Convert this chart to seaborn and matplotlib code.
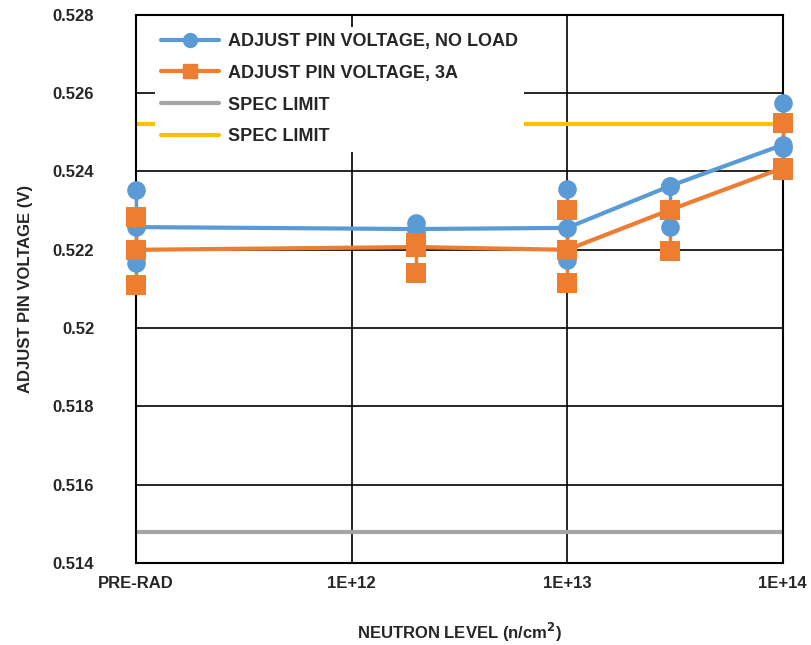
import numpy as np
import pandas as pd
import matplotlib
matplotlib.use("Agg")
import matplotlib.pyplot as plt
from matplotlib.lines import Line2D
import seaborn as sns

# Neutron fluence levels (PRE-RAD drawn at 1E+11 on the log axis)
levels = [1e11, 2e12, 1e13, 3e13, 1e14]
tick_pos = [1e11, 1e12, 1e13, 1e14]
tick_labels = ["PRE-RAD", "1E+12", "1E+13", "1E+14"]

# Individual unit readings (V), three units per level
no_load_pts = [
    [0.52353, 0.52258, 0.52166],
    [0.52269, 0.52253, 0.52240],
    [0.52356, 0.52256, 0.52174],
    [0.52363, 0.52363, 0.52258],
    [0.52575, 0.52468, 0.52460],
]
load_3a_pts = [
    [0.52284, 0.52200, 0.52110],
    [0.52218, 0.52207, 0.52141],
    [0.52302, 0.52200, 0.52115],
    [0.52302, 0.52302, 0.52197],
    [0.52524, 0.52409, 0.52405],
]
# Trend line values
no_load_line = [0.52258, 0.52253, 0.52256, 0.52363, 0.52468]
load_3a_line = [0.52200, 0.52207, 0.52200, 0.52302, 0.52409]

spec_low = 0.5148
spec_high = 0.5252

BLUE = "#5B9BD5"
ORANGE = "#ED7D31"
GRAY = "#A5A5A5"
YELLOW = "#FFC000"

sns.set_style("white")
plt.rcParams["font.family"] = ["Liberation Sans", "DejaVu Sans"]
plt.rcParams["font.weight"] = "bold"


def to_frame(pts):
    rows = []
    for lvl, vals in zip(levels, pts):
        for v in vals:
            rows.append({"level": lvl, "volt": v})
    return pd.DataFrame(rows)


df_nl = to_frame(no_load_pts)
df_3a = to_frame(load_3a_pts)
df_nl_line = pd.DataFrame({"level": levels, "volt": no_load_line})
df_3a_line = pd.DataFrame({"level": levels, "volt": load_3a_line})

fig = plt.figure(figsize=(8.12, 6.45), dpi=100)
ax = fig.add_axes([0.1675, 0.127, 0.7965, 0.85])

# spec limits across the whole range
ax.plot([levels[0], levels[-1]], [spec_low, spec_low], color=GRAY, lw=3, zorder=2)
ax.plot([levels[0], levels[-1]], [spec_high, spec_high], color=YELLOW, lw=3, zorder=2)

for df_pts, df_line, color, mk in [
    (df_nl, df_nl_line, BLUE, "o"),
    (df_3a, df_3a_line, ORANGE, "s"),
]:
    # vertical spread bar at each level
    spread = df_pts.groupby("level")["volt"].agg(["min", "max"])
    ax.vlines(spread.index, spread["min"], spread["max"], color=color, lw=2.5,
              zorder=6, clip_on=False)
    sns.lineplot(data=df_line, x="level", y="volt", color=color, lw=3,
                 ax=ax, zorder=6, legend=False)
    sns.scatterplot(data=df_pts, x="level", y="volt", color=color, marker=mk,
                    s=180 if mk == "o" else 200, linewidth=0, ax=ax, zorder=7,
                    legend=False, clip_on=False)

ax.set_xscale("log")
ax.set_xlim(1e11, 1e14)
ax.set_ylim(0.514, 0.528)
ax.set_xticks(tick_pos)
ax.set_xticklabels(tick_labels)
ax.minorticks_off()
ax.set_yticks(np.arange(0.514, 0.5281, 0.002))
ax.set_yticklabels(["0.514", "0.516", "0.518", "0.52", "0.522", "0.524", "0.526", "0.528"])
ax.tick_params(axis="y", length=0, labelsize=12, pad=30)
ax.tick_params(axis="x", length=0, labelsize=12, pad=9)
for lab in ax.get_xticklabels() + ax.get_yticklabels():
    lab.set_fontweight("bold")

ax.grid(True, color="black", lw=1.2)
ax.set_axisbelow(True)
for s in ax.spines.values():
    s.set_color("black")
    s.set_linewidth(1.5)
    s.set_zorder(5)

ax.set_xlabel("NEUTRON LEVEL (n/cm$^\\mathbf{2}$)", fontsize=12, fontweight="bold", labelpad=22)
ax.set_ylabel("ADJUST PIN VOLTAGE (V)", fontsize=12, fontweight="bold", labelpad=14)

handles = [
    Line2D([], [], color=BLUE, lw=3, marker="o", markersize=10),
    Line2D([], [], color=ORANGE, lw=3, marker="s", markersize=10),
    Line2D([], [], color=GRAY, lw=3),
    Line2D([], [], color=YELLOW, lw=3),
]
names = ["ADJUST PIN VOLTAGE, NO LOAD", "ADJUST PIN VOLTAGE, 3A",
         "SPEC LIMIT", "SPEC LIMIT"]
leg = ax.legend(handles, names, loc="upper left", bbox_to_anchor=(0.015, 0.995),
                frameon=True, fancybox=False, edgecolor="none", facecolor="white",
                framealpha=1, handlelength=3.2, handletextpad=0.5,
                labelspacing=0.82, borderpad=0.35,
                prop={"weight": "bold", "size": 13})
leg.set_zorder(8)

fig.savefig("out.png", dpi=100)
